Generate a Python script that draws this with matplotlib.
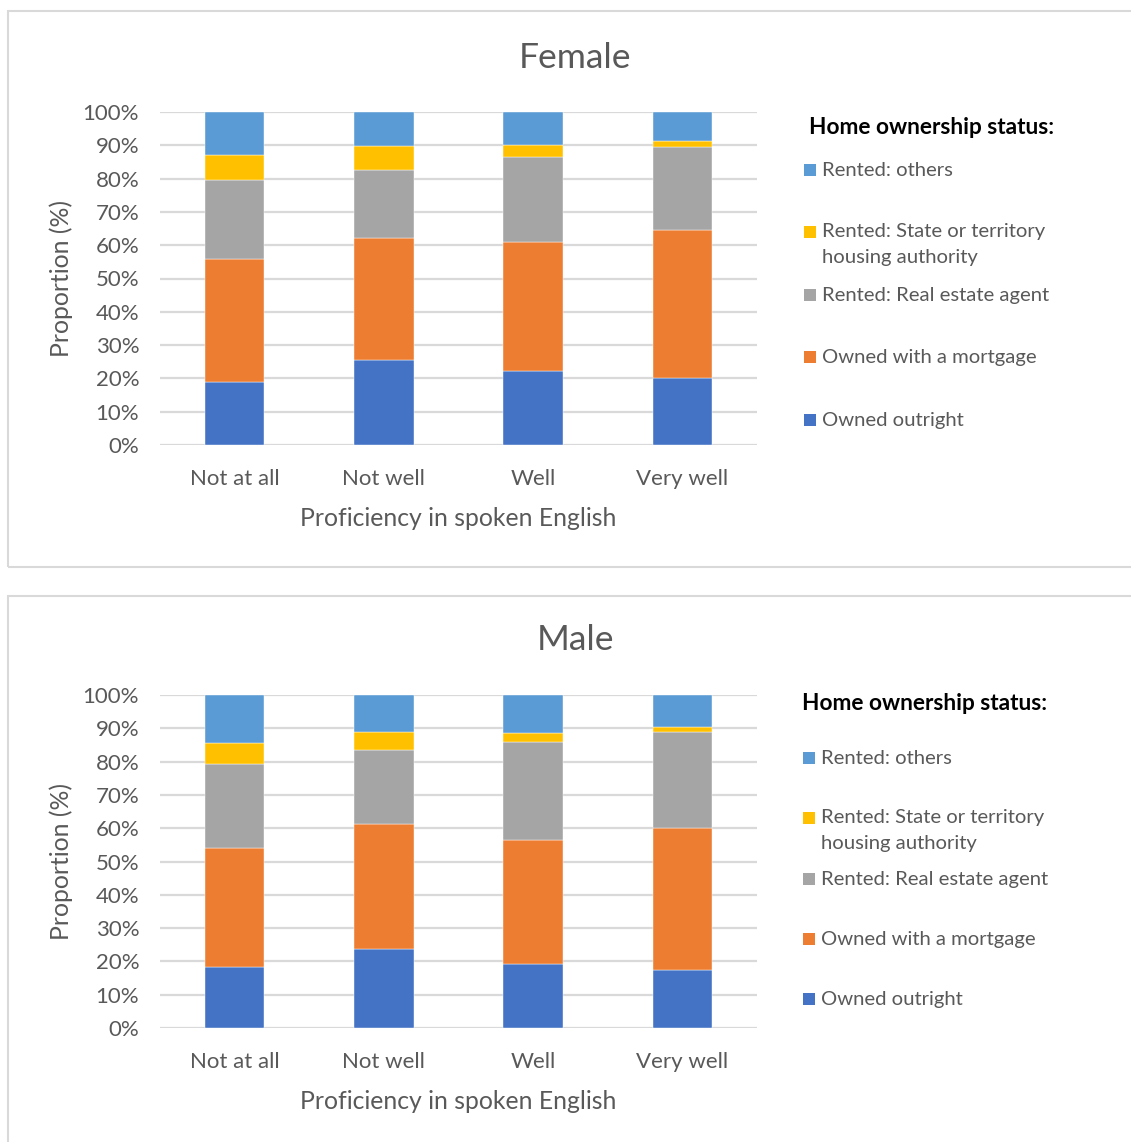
import matplotlib
matplotlib.use("Agg")
import matplotlib.pyplot as plt
from matplotlib.patches import Rectangle
import numpy as np

plt.rcParams['font.family'] = ['Lato', 'DejaVu Sans']

categories = ["Not at all", "Not well", "Well", "Very well"]
series_names = ["Owned outright", "Owned with a mortgage", "Rented: Real estate agent",
                "Rented: State or territory\nhousing authority", "Rented: others"]
colors = ["#4472C4", "#ED7D31", "#A5A5A5", "#FFC000", "#5B9BD5"]

female_outright = [18.9, 25.4, 22.3, 20.1]
female_mortgage = [37.0, 36.8, 38.7, 44.6]
female_realestate = [23.6, 20.5, 25.4, 24.7]
female_state = [7.5, 7.0, 3.7, 1.9]
female_others = [13.0, 10.3, 9.9, 8.7]

male_outright = [18.4, 23.8, 19.3, 17.3]
male_mortgage = [35.6, 37.5, 37.3, 42.9]
male_realestate = [25.3, 22.3, 29.3, 28.8]
male_state = [6.3, 5.2, 2.6, 1.5]
male_others = [14.4, 11.2, 11.5, 9.5]

yticks = list(range(0, 101, 10))
ytick_labels = [f"{v}%" for v in yticks]

W, H = 1131, 1142
fig = plt.figure(figsize=(W / 100, H / 100), dpi=100)

TXT = "#595959"
GRID = "#D9D9D9"


def fx(px):
    return px / W


def fy(py):
    return 1 - py / H


def panel(top_px, bot_px, title, title_y, data, leg_title_xy, leg_sq_x, leg_rows):
    ax = fig.add_axes([fx(160), fy(bot_px), fx(757) - fx(160), fy(top_px) - fy(bot_px)])
    x = np.arange(len(categories))
    bottom = np.zeros(len(categories))
    for vals, name, c in zip(data, series_names, colors):
        ax.bar(x, vals, 0.4, bottom=bottom, color=c, edgecolor="white",
               linewidth=0.3, label=name, zorder=3)
        bottom = bottom + np.array(vals)
    ax.set_xlim(-0.5, 3.5)
    ax.set_ylim(0, 100)
    ax.set_yticks(yticks)
    ax.set_yticklabels(ytick_labels)
    ax.set_xticks(x)
    ax.set_xticklabels(categories)
    ax.yaxis.grid(True, color=GRID, linewidth=1.6, zorder=0)
    ax.set_axisbelow(True)
    for s in ["top", "right", "left", "bottom"]:
        ax.spines[s].set_visible(False)
    ax.tick_params(axis="both", length=0, labelsize=16, colors=TXT)
    ax.tick_params(axis="y", pad=15)
    ax.tick_params(axis="x", pad=17)
    ax.set_ylabel("Proportion (%)", fontsize=17.8, color=TXT)
    ax.yaxis.set_label_coords(-0.146, 0.5)
    ax.set_xlabel("Proficiency in spoken English", fontsize=17.8, color=TXT)
    ax.xaxis.set_label_coords(0.5, -0.186)
    fig.text(fx(575), fy(title_y), title, fontsize=25.5, color=TXT, ha="center", va="center")

    # legend (Excel-style layout: entries at equal slots, top-aligned)
    fig.text(fx(leg_title_xy[0]), fy(leg_title_xy[1]), "Home ownership status:",
             fontsize=16.3, fontweight="bold", color="black", ha="left", va="center")
    sq = 11.5
    for name, c, row_y in zip(series_names[::-1], colors[::-1], leg_rows):
        fig.add_artist(Rectangle((fx(leg_sq_x - sq / 2), fy(row_y + sq / 2)), sq / W, sq / H,
                                 transform=fig.transFigure, facecolor=c, edgecolor="none"))
        lines = name.split("\n")
        for i, ln in enumerate(lines):
            fig.text(fx(leg_sq_x + 12), fy(row_y + 26 * i), ln, fontsize=14.6,
                     color=TXT, ha="left", va="center")
    return ax


female = [female_outright, female_mortgage, female_realestate, female_state, female_others]
male = [male_outright, male_mortgage, male_realestate, male_state, male_others]

panel(112, 445, "Female", 57.5, female, (809, 128), 810, [170, 232, 295, 357, 420])
panel(695, 1028, "Male", 640.5, male, (802, 703), 809, [758, 818, 879, 939, 999])

for top, bot in [(11.5, 566.5), (595.5, 1150)]:
    fig.add_artist(Rectangle((fx(7.5), fy(bot)), fx(1140) - fx(7.5), fy(top) - fy(bot),
                             transform=fig.transFigure, fill=False,
                             edgecolor=GRID, linewidth=1.5))

fig.savefig("out.png", dpi=100, facecolor="white")
